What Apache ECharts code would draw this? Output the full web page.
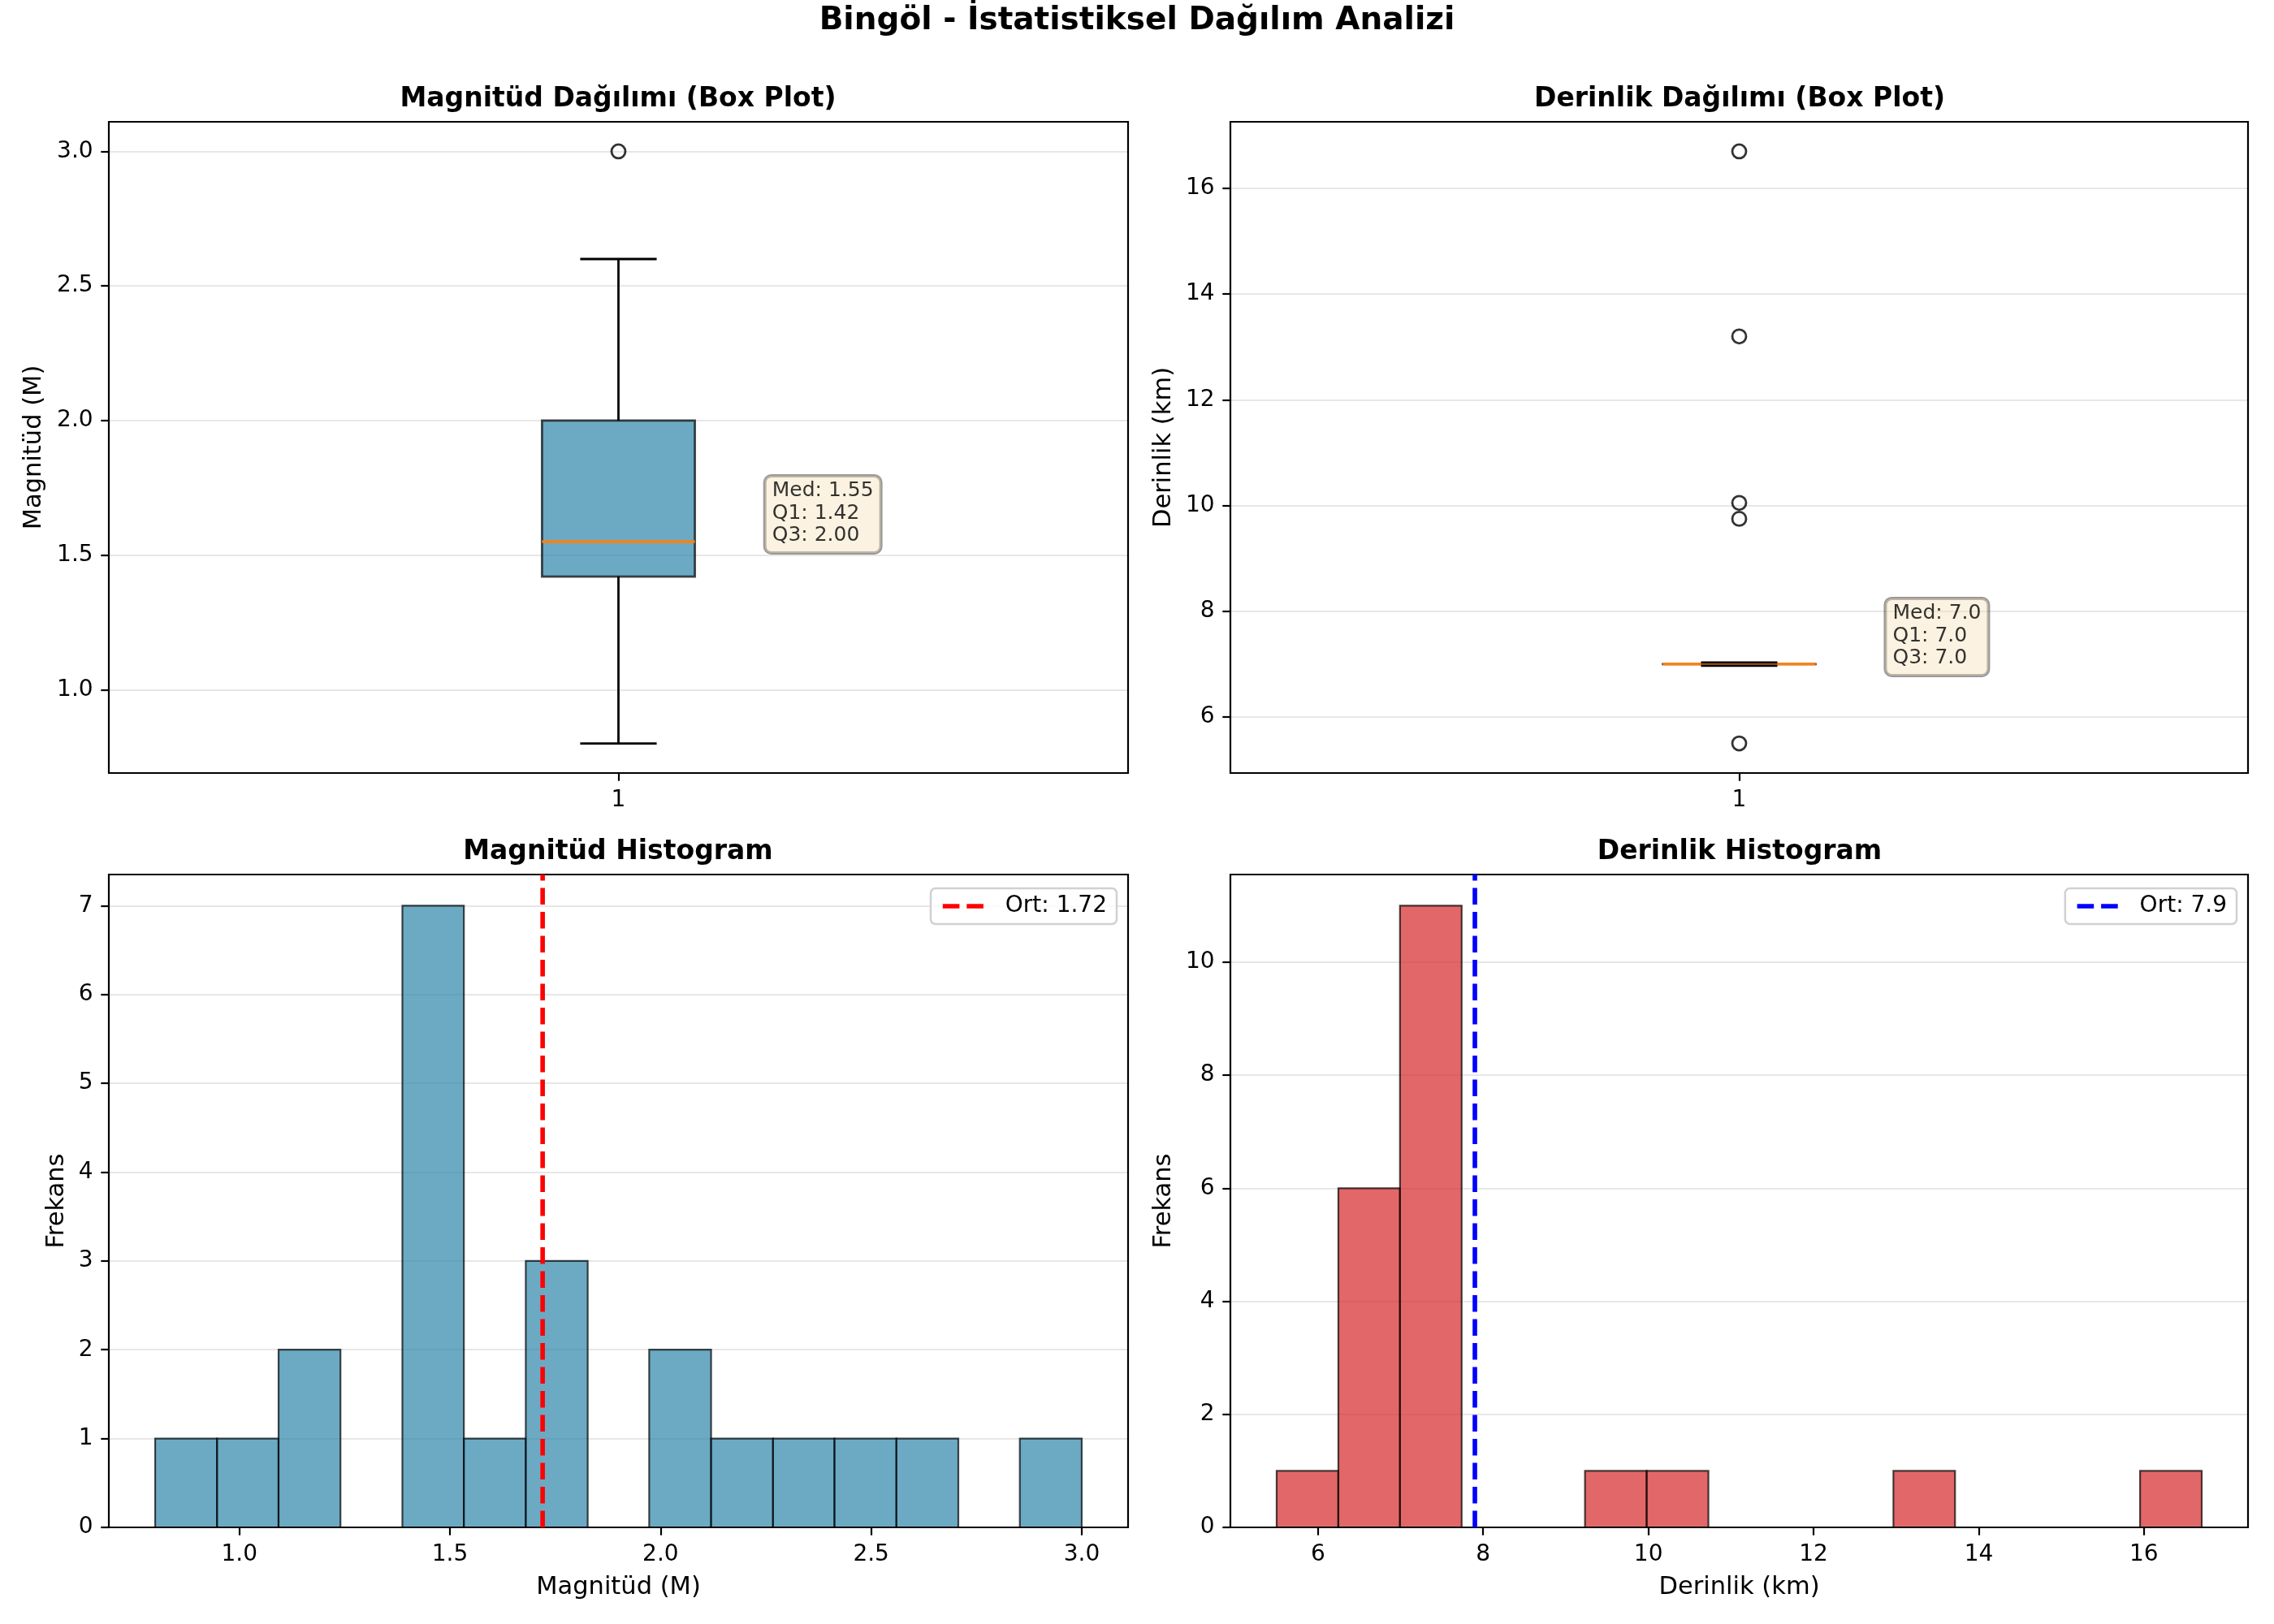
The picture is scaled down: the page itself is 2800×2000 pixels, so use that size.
<!DOCTYPE html>
<html>
<head>
<meta charset="utf-8">
<title>Bingöl - İstatistiksel Dağılım Analizi</title>
<script src="https://cdn.jsdelivr.net/npm/echarts@6/dist/echarts.min.js"></script>
<style>
  html, body { margin: 0; padding: 0; background: #fff; }
  #main { width: 2800px; height: 2000px; }
</style>
</head>
<body>
<div id="main"></div>
<script>
// box plot stats: [position, low whisker, Q1, median, Q3, high whisker]
const magBox = [1, 0.8, 1.42, 1.55, 2.00, 2.6]
const magOutliers = [3.0]
const depBox = [1, 6.97, 7.0, 7.0, 7.0, 7.03]
const depOutliers = [16.7, 13.2, 10.05, 9.75, 5.5]

// histograms (15 bins each)
const magEdges = [0.8, 0.947, 1.093, 1.24, 1.387, 1.533, 1.68, 1.827, 1.973, 2.12, 2.267, 2.413, 2.56, 2.707, 2.853, 3.0]
const magCounts = [1, 1, 2, 0, 7, 1, 3, 0, 2, 1, 1, 1, 1, 0, 1]
const depEdges = [5.5, 6.247, 6.993, 7.74, 8.487, 9.233, 9.98, 10.727, 11.473, 12.22, 12.967, 13.713, 14.46, 15.207, 15.953, 16.7]
const depCounts = [1, 6, 11, 0, 0, 1, 1, 0, 0, 0, 1, 0, 0, 0, 1]
const magMean = 1.72
const depMean = 7.9

// tick labels
const boxTicks = [1]
const magTicks = [1.0, 1.5, 2.0, 2.5, 3.0]
const depTicks = [6, 8, 10, 12, 14, 16]
const magFreqTicks = [0, 1, 2, 3, 4, 5, 6, 7]
const depFreqTicks = [0, 2, 4, 6, 8, 10]

// axis ranges
const boxRange = [0.5, 1.5]
const magRange = [0.69, 3.11]
const depRange = [4.94, 17.26]
const magFreqRange = [0, 7.35]
const depFreqRange = [0, 11.55]

const FONT = 'DejaVu Sans'
const BOX_W = 0.15
const CAP_W = 0.075
const ANNOT_X = 1.15
const GRID_COLOR = 'rgba(176,176,176,0.3)'
const DASH = [20.6, 8.9]

const grids = [
  { left: 134, top: 150, width: 1255, height: 802 },
  { left: 1515, top: 150, width: 1253, height: 802 },
  { left: 134, top: 1077, width: 1255, height: 804 },
  { left: 1515, top: 1077, width: 1253, height: 804 }
].map(g => Object.assign(g, { show: true, borderColor: '#000', borderWidth: 2.2, backgroundColor: 'transparent', z: 3 }))

function valueAxis (gridIndex, range, ticks, fmt, extra) {
  return Object.assign({
    type: 'value',
    gridIndex,
    min: range[0],
    max: range[1],
    axisLine: { show: false },
    axisTick: { show: true, length: 9.7, customValues: ticks, lineStyle: { color: '#000', width: 2.2 } },
    axisLabel: { customValues: ticks, formatter: fmt, margin: 19.4, fontSize: 28, color: '#000', fontFamily: FONT },
    splitLine: { show: false },
    nameLocation: 'middle',
    nameTextStyle: { fontSize: 30.5, color: '#000', fontFamily: FONT }
  }, extra || {})
}

const one = v => v.toFixed(1)
const int = v => String(Math.round(v))
const ySplit = { splitLine: { show: true, lineStyle: { color: GRID_COLOR, width: 2.2 } } }

const xAxes = [
  valueAxis(0, boxRange, boxTicks, int),
  valueAxis(1, boxRange, boxTicks, int),
  valueAxis(2, magRange, magTicks, one, { name: 'Magnitüd (M)', nameGap: 59 }),
  valueAxis(3, depRange, depTicks, int, { name: 'Derinlik (km)', nameGap: 59 })
]
const yAxes = [
  valueAxis(0, magRange, magTicks, one, Object.assign({ name: 'Magnitüd (M)', nameGap: 76 }, ySplit)),
  valueAxis(1, depRange, depTicks, int, Object.assign({ name: 'Derinlik (km)', nameGap: 66 }, ySplit)),
  valueAxis(2, magFreqRange, magFreqTicks, int, Object.assign({ name: 'Frekans', nameGap: 48 }, ySplit)),
  valueAxis(3, depFreqRange, depFreqTicks, int, Object.assign({ name: 'Frekans', nameGap: 66 }, ySplit))
]

function boxRender (fill) {
  return function (params, api) {
    const x = api.value(0)
    const lo = api.value(1), q1 = api.value(2), med = api.value(3), q3 = api.value(4), hi = api.value(5)
    const c = (a, b) => api.coord([a, b])
    const tl = c(x - BOX_W / 2, q3)
    const br = c(x + BOX_W / 2, q1)
    const line = (a, b, color, w) => ({
      type: 'line',
      shape: { x1: a[0], y1: a[1], x2: b[0], y2: b[1] },
      style: { stroke: color, lineWidth: w || 2.8 }
    })
    return {
      type: 'group',
      children: [
        { type: 'rect', shape: { x: tl[0], y: tl[1], width: br[0] - tl[0], height: Math.max(br[1] - tl[1], 0.01) },
          style: { fill, stroke: 'rgba(0,0,0,0.7)', lineWidth: 2.8 } },
        line(c(x, q1), c(x, lo), '#000'),
        line(c(x, q3), c(x, hi), '#000'),
        line(c(x - BOX_W / 2, med), c(x + BOX_W / 2, med), '#ff7f0e', 3.4),
        line(c(x - CAP_W / 2, lo), c(x + CAP_W / 2, lo), '#000'),
        line(c(x - CAP_W / 2, hi), c(x + CAP_W / 2, hi), '#000')
      ]
    }
  }
}

function histRender (fill) {
  return function (params, api) {
    const p0 = api.coord([api.value(0), api.value(2)])
    const p1 = api.coord([api.value(1), 0])
    return {
      type: 'rect',
      shape: { x: p0[0], y: p0[1], width: p1[0] - p0[0], height: p1[1] - p0[1] },
      style: { fill, stroke: 'rgba(0,0,0,0.7)', lineWidth: 2.2 }
    }
  }
}

function outlierSeries (idx, box, values) {
  return {
    type: 'scatter',
    xAxisIndex: idx,
    yAxisIndex: idx,
    data: values.map(v => [box[0], v]),
    symbol: 'circle',
    symbolSize: 17,
    itemStyle: { color: 'rgba(255,255,255,0)', borderColor: '#000', borderWidth: 2.8 },
    z: 4
  }
}

function annotSeries (idx, box, digits) {
  const text = 'Med: ' + box[3].toFixed(digits) + '\nQ1: ' + box[2].toFixed(digits) + '\nQ3: ' + box[4].toFixed(digits)
  return {
    type: 'scatter',
    xAxisIndex: idx,
    yAxisIndex: idx,
    data: [[ANNOT_X, box[3]]],
    symbolSize: 0.1,
    itemStyle: { color: 'rgba(0,0,0,0)' },
    label: {
      show: true,
      position: 'inside',
      align: 'left',
      verticalAlign: 'bottom',
      offset: [-8, 14],
      formatter: text,
      fontSize: 25,
      lineHeight: 27.5,
      fontFamily: FONT,
      color: '#000',
      backgroundColor: 'rgba(245,222,179,0.5)',
      borderColor: 'rgba(0,0,0,0.5)',
      borderWidth: 2,
      borderRadius: 8,
      padding: [5, 9, 7.5, 9]
    },
    z: 5
  }
}

function meanSeries (idx, mean, range, color, digits) {
  return {
    type: 'line',
    name: 'Ort: ' + mean.toFixed(digits),
    xAxisIndex: idx,
    yAxisIndex: idx,
    data: [[mean, range[0]], [mean, range[1]]],
    symbol: 'none',
    color,
    lineStyle: { color, width: 5.6, type: DASH },
    z: 4
  }
}

const series = [
  { type: 'custom', xAxisIndex: 0, yAxisIndex: 0, data: [magBox], renderItem: boxRender('rgba(46,134,171,0.7)'), z: 2 },
  outlierSeries(0, magBox, magOutliers),
  annotSeries(0, magBox, 2),
  { type: 'custom', xAxisIndex: 1, yAxisIndex: 1, data: [depBox], renderItem: boxRender('rgba(162,59,114,0.7)'), z: 2 },
  outlierSeries(1, depBox, depOutliers),
  annotSeries(1, depBox, 1),
  { type: 'custom', xAxisIndex: 2, yAxisIndex: 2, clip: true,
    data: magCounts.map((n, i) => [magEdges[i], magEdges[i + 1], n]), renderItem: histRender('rgba(46,134,171,0.7)'), z: 2 },
  meanSeries(2, magMean, magFreqRange, '#ff0000', 2),
  { type: 'custom', xAxisIndex: 3, yAxisIndex: 3, clip: true,
    data: depCounts.map((n, i) => [depEdges[i], depEdges[i + 1], n]), renderItem: histRender('rgba(214,39,40,0.7)'), z: 2 },
  meanSeries(3, depMean, depFreqRange, '#0000ff', 1)
]

function legendAt (name, right) {
  return {
    data: [name],
    right,
    top: 1094,
    orient: 'vertical',
    selectedMode: false,
    itemWidth: 56,
    itemHeight: 28,
    padding: [8, 12, 8, 12],
    backgroundColor: 'rgba(255,255,255,0.8)',
    borderColor: 'rgba(204,204,204,0.9)',
    borderWidth: 2.5,
    borderRadius: 6,
    itemStyle: { opacity: 0 },
    lineStyle: { width: 5.6, type: DASH },
    textStyle: { fontSize: 28, color: '#000', fontFamily: FONT, padding: [0, 0, 0, 16] }
  }
}

function subTitle (text, x, top) {
  return { text, left: x, top, textAlign: 'center', padding: 0,
    textStyle: { fontSize: 33, fontWeight: 'bold', color: '#000', fontFamily: FONT } }
}

const option = {
  backgroundColor: '#fff',
  animation: false,
  textStyle: { fontFamily: FONT },
  title: [
    { text: 'Bingöl - İstatistiksel Dağılım Analizi', left: 1400, top: 6, textAlign: 'center', padding: 0,
      textStyle: { fontSize: 39, fontWeight: 'bold', color: '#000', fontFamily: FONT } },
    subTitle('Magnitüd Dağılımı (Box Plot)', 761, 106),
    subTitle('Derinlik Dağılımı (Box Plot)', 2142, 106),
    subTitle('Magnitüd Histogram', 761, 1033),
    subTitle('Derinlik Histogram', 2142, 1033)
  ],
  legend: [legendAt(series[7].name, 1425), legendAt(series[9].name, 46)],
  grid: grids,
  xAxis: xAxes,
  yAxis: yAxes,
  series
}

const chart = echarts.init(document.getElementById('main'), null, { renderer: 'canvas' })
chart.setOption(option)
</script>
</body>
</html>
